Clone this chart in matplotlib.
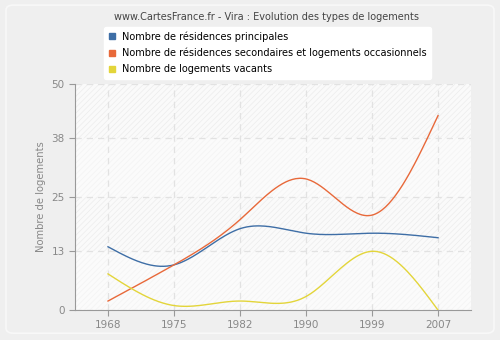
import numpy as np
import matplotlib.pyplot as plt
from matplotlib.patches import FancyBboxPatch

years = ['1968', '1975', '1982', '1990', '1999', '2007']
principales = [14, 10, 18, 17, 17, 16]
secondaires = [2, 10, 20, 29, 21, 43]
vacants = [8, 1, 2, 3, 13, 0]
yticks = [0, 13, 25, 38, 50]


def spline(y, n=40):
    # natural cubic spline on evenly spaced points
    y = np.asarray(y, float)
    k = len(y)
    A = np.zeros((k, k))
    b = np.zeros(k)
    A[0, 0] = A[-1, -1] = 1
    for i in range(1, k - 1):
        A[i, i - 1], A[i, i], A[i, i + 1] = 1, 4, 1
        b[i] = 6 * (y[i + 1] - 2 * y[i] + y[i - 1])
    m = np.linalg.solve(A, b)
    xs, ys = [], []
    for i in range(k - 1):
        t = np.linspace(0, 1, n)
        a = y[i]
        c1 = y[i + 1] - y[i] - (2 * m[i] + m[i + 1]) / 6
        c2 = m[i] / 2
        c3 = (m[i + 1] - m[i]) / 6
        xs.append(i + t)
        ys.append(a + c1 * t + c2 * t ** 2 + c3 * t ** 3)
    return np.concatenate(xs), np.concatenate(ys)


fig = plt.figure(figsize=(5, 3.4), dpi=100)
fig.patch.set_facecolor('#efefef')
fig.patches.append(FancyBboxPatch((0.012, 0.02), 0.976, 0.965, boxstyle='round,pad=0,rounding_size=0.015',
                                  transform=fig.transFigure, facecolor='#efefef', edgecolor='#f8f8f8',
                                  linewidth=1.2, zorder=-5))

ax = fig.add_axes([0.15, 0.088, 0.792, 0.665])
ax.set_facecolor('#fafafa')
plt.rcParams['hatch.linewidth'] = 0.5
for i in range(len(yticks) - 1):
    if i % 2 == 1:
        ax.axhspan(yticks[i], yticks[i + 1], facecolor='#fafafa', edgecolor='#ececec', hatch='//////', linewidth=0, zorder=0)
    else:
        ax.axhspan(yticks[i], yticks[i + 1], facecolor='#fbfbfb', edgecolor='#f3f3f3', hatch='//////', linewidth=0, zorder=0)

for vals, col, lab in [(principales, '#3e6ea6', 'Nombre de résidences principales'),
                       (secondaires, '#e8693a', 'Nombre de résidences secondaires et logements occasionnels'),
                       (vacants, '#e3d53a', 'Nombre de logements vacants')]:
    xs, ys = spline(vals)
    ax.plot(xs, ys, color=col, lw=1, zorder=3)
    ax.plot([], [], marker='s', ls='none', color=col, markersize=4, label=lab)

ax.set_xlim(-0.5, len(years) - 0.5)
ax.set_ylim(0, 50)
ax.set_xticks(range(len(years)))
ax.set_xticklabels(years)
ax.set_yticks(yticks)
ax.grid(True, color='#e2e2e2', ls=(0, (5, 4)), lw=0.9, zorder=1)
ax.set_axisbelow(True)
for s in ['top', 'right']:
    ax.spines[s].set_visible(False)
for s in ['left', 'bottom']:
    ax.spines[s].set_color('#999999')
ax.tick_params(colors='#999999', labelsize=7.5, length=4, labelcolor='#888888')
ax.set_ylabel('Nombre de logements', color='#888888', fontsize=7.2)

fig.text(0.534, 0.95, 'www.CartesFrance.fr - Vira : Evolution des types de logements',
         ha='center', va='center', fontsize=7, color='#444444')
leg = fig.legend(loc='upper left', bbox_to_anchor=(0.198, 0.935), fontsize=7, frameon=True,
                 handlelength=0.8, handletextpad=0.6, labelspacing=0.62, borderpad=0.45,
                 fancybox=True)
leg.get_frame().set_edgecolor('white')
leg.get_frame().set_facecolor('white')
leg.get_frame().set_alpha(1)

fig.savefig('out.png', dpi=100, facecolor=fig.get_facecolor())
